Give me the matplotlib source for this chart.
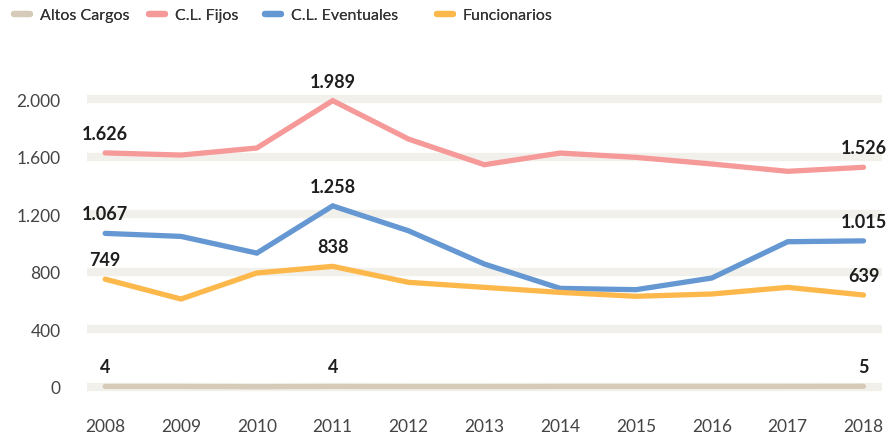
import matplotlib
matplotlib.use('Agg')
from matplotlib import pyplot as plt
from matplotlib.lines import Line2D

plt.rcParams['font.family'] = ['Lato', 'DejaVu Sans']

# personal por tipo, 2008-2018
years = [2008, 2009, 2010, 2011, 2012, 2013, 2014, 2015, 2016, 2017, 2018]
altos_cargos = [4, 4, 2, 4, 3, 3, 4, 4, 4, 4, 5]
cl_fijos = [1626, 1611, 1660, 1989, 1722, 1544, 1625, 1595, 1549, 1498, 1526]
cl_eventuales = [1067, 1046, 930, 1258, 1085, 854, 685, 676, 757, 1009, 1015]
funcionarios = [749, 611, 792, 838, 727, 692, 657, 630, 646, 692, 639]

names = ['Altos Cargos', 'C.L. Fijos', 'C.L. Eventuales', 'Funcionarios']
colors = ['#d5cbb8', '#f59a98', '#6598d2', '#fdb84c']
series = [altos_cargos, cl_fijos, cl_eventuales, funcionarios]
label_years = [2008, 2011, 2018]
yticks = [0, 400, 800, 1200, 1600, 2000]


def miles(v):
    return '{:,}'.format(v).replace(',', '.')


fig = plt.figure(figsize=(8.92, 4.35), dpi=100)
ax = fig.add_axes([0.0975, 0.069, 0.891, 0.793])

for vals, col in zip(series, colors):
    ax.plot(years, vals, color=col, linewidth=3.8, solid_capstyle='round',
            solid_joinstyle='miter', zorder=3)
    for yr in label_years:
        v = vals[years.index(yr)]
        ax.annotate(miles(v), (yr, v), xytext=(0, 14), textcoords='offset points',
                    ha='center', va='center', fontsize=13, fontweight='bold',
                    color='#1e1e1e', zorder=4)

ax.set_xlim(2007.76, 2018.24)
ax.set_ylim(-118, 2278)
ax.set_yticks(yticks)
ax.set_yticklabels([miles(t) for t in yticks])
ax.set_xticks(years)
ax.yaxis.grid(True, color='#f2f0eb', linewidth=6, zorder=0)
ax.set_axisbelow(True)
ax.tick_params(axis='both', length=0, labelsize=12.5, colors='#444444')
ax.tick_params(axis='y', pad=19)
ax.tick_params(axis='x', pad=10)
for s in ax.spines.values():
    s.set_visible(False)

# one legend entry per column, each anchored at its own x
legend_x = [0.0, 0.151, 0.281, 0.474]
for x0, name, col in zip(legend_x, names, colors):
    h = Line2D([], [], color=col, linewidth=4.5, solid_capstyle='round')
    leg = fig.legend([h], [name], loc='upper left', bbox_to_anchor=(x0, 1.012),
                     frameon=False, fontsize=11.5, handlelength=1.0,
                     handletextpad=0.6, labelcolor='#333333')
    fig.add_artist(leg)

fig.savefig('out.png', dpi=100)
